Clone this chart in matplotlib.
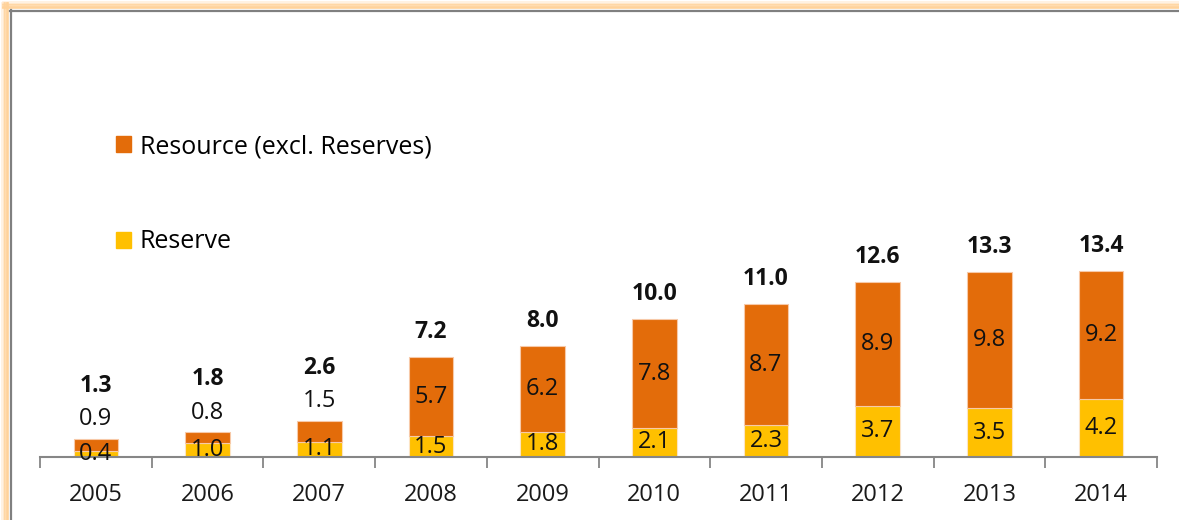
import matplotlib
matplotlib.use('Agg')
import matplotlib.pyplot as plt
from matplotlib.lines import Line2D
from matplotlib.patches import Patch
import numpy as np

plt.rcParams['font.family'] = ['Open Sans', 'DejaVu Sans']

# data
years = ['2005', '2006', '2007', '2008', '2009', '2010', '2011', '2012', '2013', '2014']
reserve = [0.4, 1.0, 1.1, 1.5, 1.8, 2.1, 2.3, 3.7, 3.5, 4.2]
resource = [0.9, 0.8, 1.5, 5.7, 6.2, 7.8, 8.7, 8.9, 9.8, 9.2]
totals = [1.3, 1.8, 2.6, 7.2, 8.0, 10.0, 11.0, 12.6, 13.3, 13.4]

c_res = '#E36C0A'
c_rsv = '#FFC000'

W, H = 1179, 520
fig = plt.figure(figsize=(W / 100, H / 100), dpi=100)
fig.patch.set_facecolor('white')

# ── frame: orange glow + grey rule on left and top ──────────────────────────
for off, a in [(2, 0.3), (3.5, 0.55), (5, 0.85), (6.5, 1.0), (8, 0.9)]:
    fig.add_artist(Line2D([off / W, off / W], [0, 1 - 3 / H], color='#FFD29A',
                          lw=1.3, alpha=a, transform=fig.transFigure))
    fig.add_artist(Line2D([3 / W, 1], [1 - off / H, 1 - off / H], color='#FFD29A',
                          lw=1.3, alpha=a, transform=fig.transFigure))
fig.add_artist(Line2D([10.5 / W, 10.5 / W], [0, 1 - 10 / H], color='#808080',
                      lw=1.6, transform=fig.transFigure))
fig.add_artist(Line2D([10 / W, 1], [1 - 10.5 / H, 1 - 10.5 / H], color='#808080',
                      lw=1.6, transform=fig.transFigure))

# ── axes ────────────────────────────────────────────────────────────────────
ymax = 20
px_per_unit = 13.9
ax = fig.add_axes([40 / W, (H - 457) / H, (1157 - 40) / W, ymax * px_per_unit / H])
ax.set_xlim(-0.5, len(years) - 0.5)
ax.set_ylim(0, ymax)
ax.patch.set_alpha(0)

x = np.arange(len(years))
ax.bar(x, reserve, width=0.4, color=c_rsv, edgecolor='#FCE4C4', linewidth=0.8, zorder=2)
ax.bar(x, resource, width=0.4, bottom=reserve, color=c_res, edgecolor='#F7C9A8',
       linewidth=0.8, zorder=2)

for s in ['top', 'right', 'left']:
    ax.spines[s].set_visible(False)
ax.spines['bottom'].set_color('#868686')
ax.spines['bottom'].set_linewidth(1.5)
ax.spines['bottom'].set_zorder(3)
ax.set_yticks([])
ax.set_xticks(np.arange(-0.5, len(years), 1.0))
ax.set_xticklabels([])
ax.tick_params(axis='x', which='major', length=8, width=1.3, color='#868686')
ax.set_xticks(x, minor=True)
ax.set_xticklabels(years, minor=True, fontsize=17, color='#1a1a1a')
ax.tick_params(axis='x', which='minor', length=0, pad=19)

# ── data labels ─────────────────────────────────────────────────────────────
for i in range(len(years)):
    top = reserve[i] + resource[i]
    ax.text(x[i], reserve[i] / 2, f'{reserve[i]:.1f}', ha='center', va='center',
            fontsize=17, color='#111', zorder=4)
    if resource[i] < 2:
        ax.annotate(f'{resource[i]:.1f}', (x[i], top), xytext=(0, 14),
                    textcoords='offset points', ha='center', va='center',
                    fontsize=17, color='#111')
        ax.annotate(f'{totals[i]:.1f}', (x[i], top), xytext=(0, 38),
                    textcoords='offset points', ha='center', va='center',
                    fontsize=16.5, fontweight='bold', color='#111')
    else:
        ax.text(x[i], reserve[i] + resource[i] / 2, f'{resource[i]:.1f}', ha='center',
                va='center', fontsize=17, color='#111', zorder=4)
        ax.annotate(f'{totals[i]:.1f}', (x[i], top), xytext=(0, 18),
                    textcoords='offset points', ha='center', va='center',
                    fontsize=16.5, fontweight='bold', color='#111')

# ── legend ──────────────────────────────────────────────────────────────────
handles = [Patch(color=c_res, label='Resource (excl. Reserves)'),
           Patch(color=c_rsv, label='Reserve')]
fig.legend(handles=handles, loc='upper left', bbox_to_anchor=(116 / W, 1 - 134 / H),
           frameon=False, fontsize=18, handlelength=0.6, handleheight=0.6,
           handletextpad=0.35, labelspacing=2.82, borderpad=0, borderaxespad=0)

fig.savefig('out.png', dpi=100, facecolor='white')
